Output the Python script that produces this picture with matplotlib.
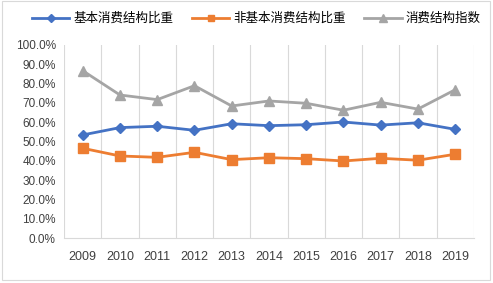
import matplotlib
matplotlib.use("Agg")
import matplotlib.pyplot as plt
from matplotlib.patches import Rectangle
from matplotlib.ticker import FuncFormatter, MultipleLocator

plt.rcParams['font.family'] = ['Liberation Sans', 'Noto Sans CJK SC', 'DejaVu Sans']

years = ['2009', '2010', '2011', '2012', '2013', '2014', '2015', '2016', '2017', '2018', '2019']
basic_share = [53.4, 57.2, 57.9, 55.8, 59.2, 58.2, 58.7, 60.1, 58.5, 59.7, 56.3]
nonbasic_share = [46.5, 42.5, 41.8, 44.4, 40.6, 41.6, 41.1, 39.9, 41.3, 40.3, 43.4]
structure_index = [86.7, 74.1, 71.7, 78.9, 68.4, 71.0, 69.8, 66.2, 70.3, 66.8, 76.8]
series_names = ['基本消费结构比重', '非基本消费结构比重', '消费结构指数']

fig = plt.figure(figsize=(4.93, 2.83), dpi=100)
ax = fig.add_axes([0.130, 0.159, 0.831, 0.682])

# outer chart border like the spreadsheet frame
fig.patches.append(Rectangle((0.004, 0.012), 0.99, 0.984, transform=fig.transFigure,
                             fill=False, edgecolor='#D9D9D9', linewidth=0.8))

x = list(range(len(years)))
ax.plot(x, basic_share, color='#4472C4', lw=2, marker='D', ms=5, label=series_names[0], zorder=3)
ax.plot(x, nonbasic_share, color='#ED7D31', lw=2, marker='s', ms=6.5, label=series_names[1], zorder=3)
ax.plot(x, structure_index, color='#A5A5A5', lw=2, marker='^', ms=7, label=series_names[2], zorder=3)

ax.set_xlim(-0.5, len(years) - 0.5)
ax.set_ylim(0, 100)
ax.set_xticks(x)
ax.set_xticklabels(years, fontsize=9, color='#404040')
ax.set_xticks([i - 0.5 for i in range(len(years) + 1)], minor=True)
ax.yaxis.set_major_locator(MultipleLocator(10))
ax.yaxis.set_major_formatter(FuncFormatter(lambda v, p: f'{v:.1f}%'))
ax.tick_params(axis='y', labelsize=8.5, labelcolor='#404040', length=0, pad=6)
ax.tick_params(axis='x', which='both', length=0, pad=9)
ax.grid(True, which='minor', axis='x', color='#D9D9D9', lw=0.8)
ax.grid(False, which='major')
for s in ['top', 'right', 'left']:
    ax.spines[s].set_visible(False)
ax.spines['bottom'].set_color('#D9D9D9')

fig.legend(loc='center', bbox_to_anchor=(0.52, 0.935), ncol=3, frameon=False,
           prop={'family': ['Noto Sans CJK SC', 'DejaVu Sans'], 'size': 9},
           handlelength=3, columnspacing=1.5, handletextpad=0.3, markerscale=0.75)

fig.savefig('out.png', dpi=100)
